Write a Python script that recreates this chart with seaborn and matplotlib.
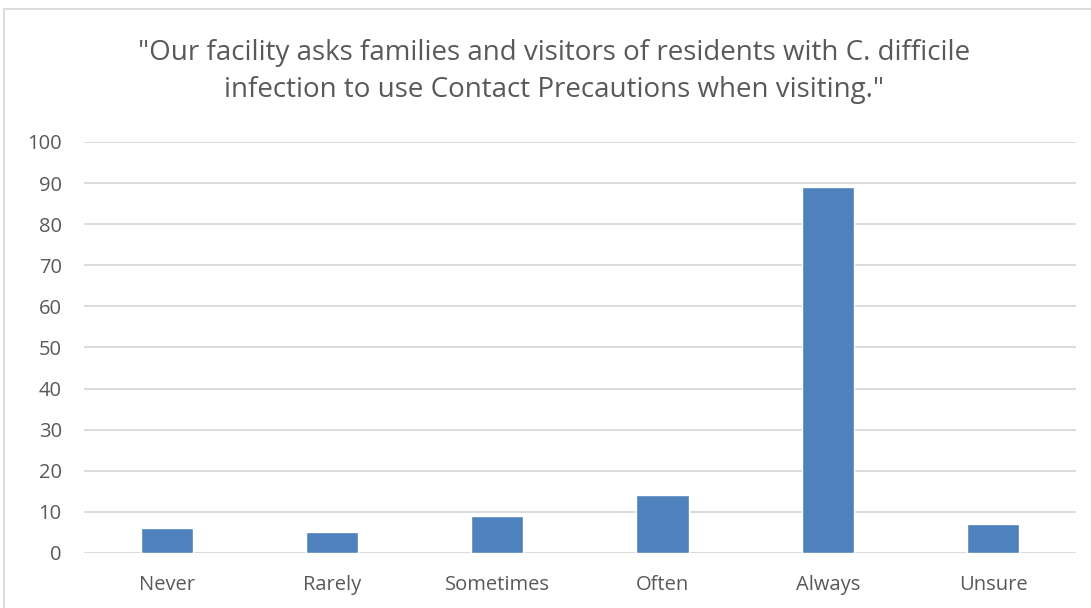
import matplotlib
matplotlib.use("Agg")
import matplotlib.pyplot as plt
import seaborn as sns
import pandas as pd
from matplotlib.patches import Rectangle

categories = ["Never", "Rarely", "Sometimes", "Often", "Always", "Unsure"]
values = [6, 5, 9, 14, 89, 7]
yticks = [0, 10, 20, 30, 40, 50, 60, 70, 80, 90, 100]
title = '"Our facility asks families and visitors of residents with C. difficile\ninfection to use Contact Precautions when visiting."'

sns.set_theme(style="white")
plt.rcParams['font.family'] = ['Open Sans', 'DejaVu Sans']

df = pd.DataFrame({"cat": categories, "val": values})

fig = plt.figure(figsize=(10.91, 6.08), dpi=100)
ax = fig.add_axes([0.077, 0.0905, 0.909, 0.676])

sns.barplot(data=df, x="cat", y="val", color="#4F81BD", width=0.315,
            saturation=1, ax=ax, zorder=3)

ax.set_ylim(0, 100)
ax.set_yticks(yticks)
ax.set_yticklabels([str(t) for t in yticks])
ax.yaxis.grid(True, color="#D9D9D9", linewidth=1.3, zorder=0)
ax.set_axisbelow(True)
for s in ax.spines.values():
    s.set_visible(False)
ax.set_xlabel("")
ax.set_ylabel("")
ax.tick_params(axis="both", length=0, labelsize=14.5, colors="#595959")
ax.tick_params(axis="y", pad=16)
ax.tick_params(axis="x", pad=16)

fig.text(0.508, 0.883, title, ha="center", va="center", fontsize=20,
         color="#595959", linespacing=1.43)

fig.patches.append(Rectangle((4/1091, -0.01), 1.1, (608-9)/608 + 0.01,
                             transform=fig.transFigure, fill=False,
                             edgecolor="#D9D9D9", linewidth=1.3))

fig.savefig("out.png", dpi=100)
